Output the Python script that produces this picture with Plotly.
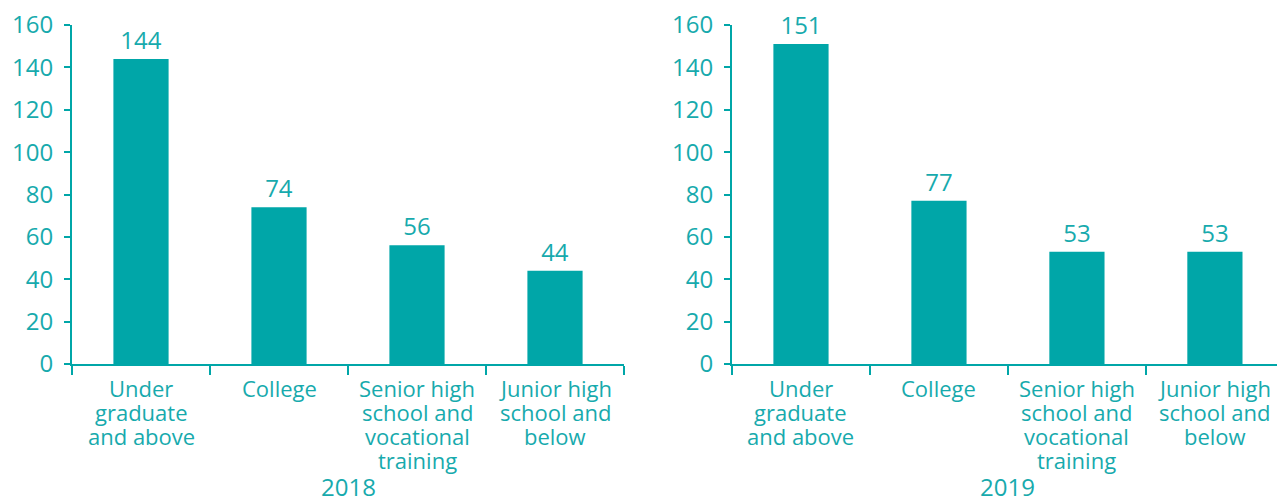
import plotly.graph_objects as go

categories = [
    "Under graduate and above",
    "College",
    "Senior high school and vocational training",
    "Junior high school and below",
]
# wrapped form of each category name, one entry per printed line
category_lines = [
    ["Under", "graduate", "and above"],
    ["College"],
    ["Senior high", "school and", "vocational", "training"],
    ["Junior high", "school and", "below"],
]
values_2018 = [144, 74, 56, 44]
values_2019 = [151, 77, 53, 53]
years = ["2018", "2019"]
y_ticks = [0, 20, 40, 60, 80, 100, 120, 140, 160]

BAR = "#00A6A8"
TEXT = "#17AAAD"
FONT = "Open Sans, Noto Sans, sans-serif"
W, H = 1277, 504
TOP, BOTTOM = 25, 364          # pixel rows of the plot area
PLOT_H = BOTTOM - TOP
LINE_PITCH = 24


def row_to_paper(row):
    return (BOTTOM - row) / PLOT_H


fig = go.Figure()
for i, vals in enumerate([values_2018, values_2019]):
    suffix = "" if i == 0 else "2"
    fig.add_trace(go.Bar(
        x=categories, y=vals,
        xaxis="x" + suffix, yaxis="y" + suffix,
        marker=dict(color=BAR, line=dict(width=0)),
        text=[str(v) for v in vals], textposition="outside",
        textfont=dict(size=24, color=TEXT, family=FONT),
        cliponaxis=False, showlegend=False,
    ))

xcommon = dict(
    type="category", showline=True, linecolor=BAR, linewidth=2,
    ticks="outside", tickson="boundaries", ticklen=9, tickwidth=2, tickcolor=BAR,
    showticklabels=False, showgrid=False, zeroline=False,
)
ycommon = dict(
    range=[0, 160], tickvals=y_ticks, showline=True, linecolor=BAR, linewidth=2,
    ticks="outside", ticklen=6, tickwidth=2, tickcolor=BAR, ticklabelstandoff=6,
    tickfont=dict(size=24, color=TEXT, family=FONT), showgrid=False, zeroline=False,
)

annotations = []
for axis, year in zip(["x", "x2"], years):
    # wrapped category names under each bar
    for cat, lines in zip(categories, category_lines):
        for k, line in enumerate(lines):
            annotations.append(dict(
                text=line, xref=axis, yref="paper", x=cat,
                y=row_to_paper(388 + LINE_PITCH * k),
                showarrow=False, xanchor="center", yanchor="middle",
                borderpad=0,
                font=dict(size=22, color=TEXT, family=FONT),
            ))
    # year caption centred under the panel
    annotations.append(dict(
        text=year, xref=axis, yref="paper", x=1.5, y=row_to_paper(487),
        showarrow=False, xanchor="center", yanchor="middle",
        borderpad=0,
        font=dict(size=24, color=TEXT, family=FONT),
    ))

fig.update_layout(
    width=W, height=H,
    margin=dict(l=0, r=0, t=TOP, b=H - BOTTOM),
    paper_bgcolor="white", plot_bgcolor="white",
    bargap=0.6,
    xaxis=dict(domain=[72 / W, 624 / W], range=[-0.5, 3.5], anchor="y", **xcommon),
    yaxis=dict(anchor="x", **ycommon),
    xaxis2=dict(domain=[732 / W, 1.0], range=[-0.5, 3.45], anchor="y2", **xcommon),
    yaxis2=dict(anchor="x2", **ycommon),
    annotations=annotations,
)

fig.write_html("out.html")
